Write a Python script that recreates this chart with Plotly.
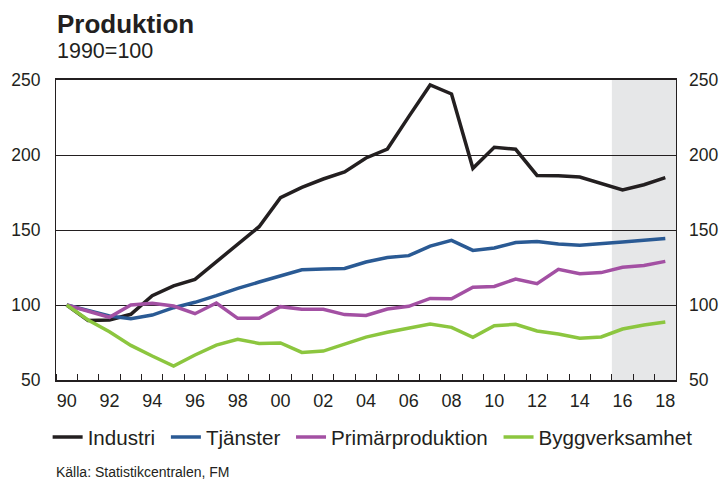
import plotly.graph_objects as go

years = list(range(1990, 2019))
industri = [100, 89.6, 90, 93.8, 106.2, 112.7, 117.1, 128.9, 140.7, 152.2, 171.6, 178.4, 184, 188.7, 198.0,
            204, 225.6, 246.7, 240.7, 191.1, 205.1, 203.8, 186.4, 186.2, 185.3, 180.7, 176.7, 180.2, 184.9]
tjanster = [100, 96.2, 92.7, 90.9, 93.3, 98.2, 101.8, 106.2, 111.1, 115.3, 119.6, 123.5, 124, 124.4, 128.7,
            131.6, 132.9, 139.3, 143.1, 136.4, 138, 141.6, 142.4, 140.7, 139.8, 141.1, 142, 143.1, 144.4]
primar = [100, 95.6, 91.8, 100, 101.1, 99.3, 94.2, 101.3, 91.1, 91.1, 98.9, 97.1, 97.1, 93.6, 93,
          97.3, 99.1, 104.4, 104.2, 111.8, 112.4, 117.3, 114.2, 123.8, 120.9, 121.6, 125.1, 126.4, 129.1]
bygg = [100, 90, 82.2, 73.1, 66, 59.3, 66.7, 73.3, 77.1, 74.4, 74.7, 68.4, 69.3, 73.8, 78.6,
        81.8, 84.4, 87.3, 85.1, 78.4, 86.2, 87.1, 82.7, 80.7, 77.8, 78.7, 84, 86.7, 88.7]

series_names = ["Industri", "Tjänster", "Primärproduktion", "Byggverksamhet"]
series_values = [industri, tjanster, primar, bygg]
colors = ["#231f20", "#2a5a94", "#a350a3", "#8cc63f"]

x_tickvals = list(range(1990, 2019, 2))
x_ticktext = ["90", "92", "94", "96", "98", "00", "02", "04", "06", "08", "10", "12", "14", "16", "18"]
y_tickvals = [50, 100, 150, 200, 250]
forecast_start, forecast_end = 2015.5, 2018.5

FONT = "Liberation Sans, Arial, Helvetica, sans-serif"
TXT = "#231f20"

fig = go.Figure()
for name, vals, col in zip(series_names, series_values, colors):
    # trailing no-break space widens the gap between legend entries as in the original
    fig.add_trace(go.Scatter(x=years, y=vals, name=name + "\u00a0", mode="lines",
                             line=dict(color=col, width=3.5)))
# invisible trace to carry the right-hand axis
fig.add_trace(go.Scatter(x=[years[0]], y=[industri[0]], yaxis="y2", showlegend=False,
                         mode="lines", line=dict(width=0), hoverinfo="skip"))

fig.add_shape(type="rect", xref="x", yref="y", x0=forecast_start, x1=forecast_end, y0=50, y1=250,
              fillcolor="#e6e7e8", line=dict(width=0), layer="below")

fig.update_layout(
    width=721, height=482,
    margin=dict(l=56, r=45, t=80, b=102, autoexpand=False),
    paper_bgcolor="white", plot_bgcolor="white",
    font=dict(family=FONT, size=18, color=TXT),
    showlegend=True,
    legend=dict(orientation="h", x=-0.0135, xanchor="left",
                y=-0.19, yanchor="middle", font=dict(size=20.6, color=TXT),
                itemclick=False, bgcolor="rgba(0,0,0,0)"),
    xaxis=dict(range=[1989.5, 2018.5], tickvals=x_tickvals, ticktext=x_ticktext,
               ticks="", showgrid=False, zeroline=False, automargin=False,
               showline=True, linecolor=TXT, linewidth=1.5, mirror=True,
               ticklabelstandoff=4, tickfont=dict(size=18),
               minor=dict(ticks="inside", tick0=1990.5, dtick=1, ticklen=6,
                          tickcolor=TXT, tickwidth=1, showgrid=False)),
    yaxis=dict(range=[50, 250], tickvals=y_tickvals, showgrid=True, gridcolor=TXT,
               gridwidth=1, zeroline=False, showline=True, linecolor=TXT, automargin=False,
               linewidth=1, mirror=True, ticks="", ticklabelstandoff=11,
               tickfont=dict(size=17.5)),
    yaxis2=dict(range=[50, 250], tickvals=y_tickvals, overlaying="y", side="right",
                showgrid=False, zeroline=False, showline=False, ticks="", automargin=False,
                ticklabelstandoff=12, tickfont=dict(size=17.5)),
)

fig.add_annotation(text="<b>Produktion</b>", xref="paper", yref="paper",
                   x=0, xshift=-1, y=1, yshift=56, xanchor="left", yanchor="middle",
                   showarrow=False, font=dict(size=26, family=FONT, color=TXT))
fig.add_annotation(text="1990=100", xref="paper", yref="paper",
                   x=0, xshift=-1, y=1, yshift=29, xanchor="left", yanchor="middle",
                   showarrow=False, font=dict(size=21.5, family=FONT, color=TXT))
fig.add_annotation(text="Källa: Statistikcentralen, FM", xref="paper", yref="paper",
                   x=0, xshift=-2, y=0, yshift=-92, xanchor="left", yanchor="middle",
                   showarrow=False, font=dict(size=14, family=FONT, color=TXT))

fig.write_html("out.html", config={"displayModeBar": False},
               post_script="document.body.style.margin='0';document.body.style.overflow='hidden';")
